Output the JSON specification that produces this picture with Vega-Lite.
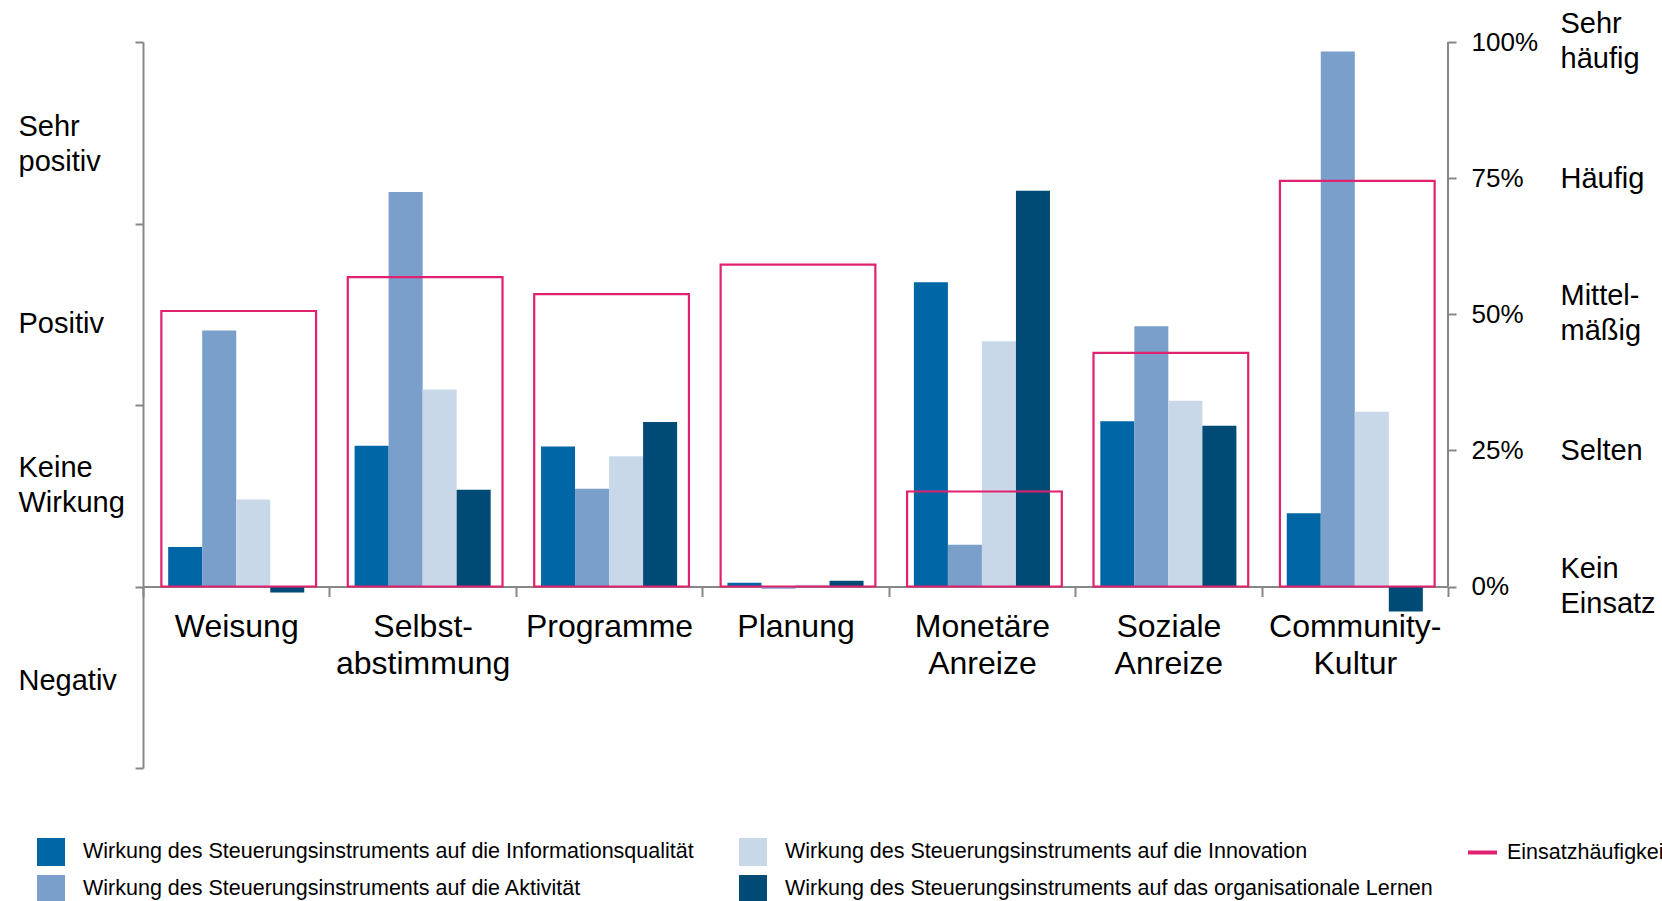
{
  "$schema": "https://vega.github.io/schema/vega-lite/v6.json",
  "autosize": {"type": "none"},
  "width": 1305,
  "height": 726,
  "padding": {"left": 143, "top": 42, "right": 214, "bottom": 133},
  "background": "white",
  "config": {
    "font": "Liberation Sans",
    "view": {"stroke": null},
    "axis": {"labelFont": "Liberation Sans", "labelColor": "#000000", "domainColor": "#878787", "tickColor": "#878787", "domainWidth": 2, "tickWidth": 2, "grid": false, "title": null, "labelOverlap": false, "labelFlush": false, "labelBound": false},
    "legend": {"labelFont": "Liberation Sans", "labelColor": "#000000"}
  },
  "datasets": {
    "bars": [
      {"k": "Weisung", "s": "Wirkung des Steuerungsinstruments auf die Informationsqualität", "v": 0.217},
      {"k": "Weisung", "s": "Wirkung des Steuerungsinstruments auf die Aktivität", "v": 1.41},
      {"k": "Weisung", "s": "Wirkung des Steuerungsinstruments auf die Innovation", "v": 0.48},
      {"k": "Weisung", "s": "Wirkung des Steuerungsinstruments auf das organisationale Lernen", "v": -0.033},
      {"k": "Selbstabstimmung", "s": "Wirkung des Steuerungsinstruments auf die Informationsqualität", "v": 0.776},
      {"k": "Selbstabstimmung", "s": "Wirkung des Steuerungsinstruments auf die Aktivität", "v": 2.174},
      {"k": "Selbstabstimmung", "s": "Wirkung des Steuerungsinstruments auf die Innovation", "v": 1.085},
      {"k": "Selbstabstimmung", "s": "Wirkung des Steuerungsinstruments auf das organisationale Lernen", "v": 0.533},
      {"k": "Programme", "s": "Wirkung des Steuerungsinstruments auf die Informationsqualität", "v": 0.772},
      {"k": "Programme", "s": "Wirkung des Steuerungsinstruments auf die Aktivität", "v": 0.539},
      {"k": "Programme", "s": "Wirkung des Steuerungsinstruments auf die Innovation", "v": 0.717},
      {"k": "Programme", "s": "Wirkung des Steuerungsinstruments auf das organisationale Lernen", "v": 0.906},
      {"k": "Planung", "s": "Wirkung des Steuerungsinstruments auf die Informationsqualität", "v": 0.02},
      {"k": "Planung", "s": "Wirkung des Steuerungsinstruments auf die Aktivität", "v": -0.012},
      {"k": "Planung", "s": "Wirkung des Steuerungsinstruments auf die Innovation", "v": 0.01},
      {"k": "Planung", "s": "Wirkung des Steuerungsinstruments auf das organisationale Lernen", "v": 0.031},
      {"k": "Monetäre Anreize", "s": "Wirkung des Steuerungsinstruments auf die Informationsqualität", "v": 1.676},
      {"k": "Monetäre Anreize", "s": "Wirkung des Steuerungsinstruments auf die Aktivität", "v": 0.23},
      {"k": "Monetäre Anreize", "s": "Wirkung des Steuerungsinstruments auf die Innovation", "v": 1.351},
      {"k": "Monetäre Anreize", "s": "Wirkung des Steuerungsinstruments auf das organisationale Lernen", "v": 2.18},
      {"k": "Soziale Anreize", "s": "Wirkung des Steuerungsinstruments auf die Informationsqualität", "v": 0.91},
      {"k": "Soziale Anreize", "s": "Wirkung des Steuerungsinstruments auf die Aktivität", "v": 1.434},
      {"k": "Soziale Anreize", "s": "Wirkung des Steuerungsinstruments auf die Innovation", "v": 1.024},
      {"k": "Soziale Anreize", "s": "Wirkung des Steuerungsinstruments auf das organisationale Lernen", "v": 0.886},
      {"k": "Community-Kultur", "s": "Wirkung des Steuerungsinstruments auf die Informationsqualität", "v": 0.404},
      {"k": "Community-Kultur", "s": "Wirkung des Steuerungsinstruments auf die Aktivität", "v": 2.948},
      {"k": "Community-Kultur", "s": "Wirkung des Steuerungsinstruments auf die Innovation", "v": 0.963},
      {"k": "Community-Kultur", "s": "Wirkung des Steuerungsinstruments auf das organisationale Lernen", "v": -0.138}
    ],
    "freq": [
      {"k": "Weisung", "f": 0.506},
      {"k": "Selbstabstimmung", "f": 0.568},
      {"k": "Programme", "f": 0.537},
      {"k": "Planung", "f": 0.591},
      {"k": "Monetäre Anreize", "f": 0.1745},
      {"k": "Soziale Anreize", "f": 0.429},
      {"k": "Community-Kultur", "f": 0.745}
    ],
    "rightaxis": [{"a": 0, "b": 1}]
  },
  "resolve": {"scale": {"y": "independent"}, "axis": {"y": "independent"}},
  "layer": [
    {
      "data": {"name": "bars"},
      "mark": {"type": "bar"},
      "encoding": {
        "x": {
          "field": "k", "type": "nominal",
          "sort": ["Weisung", "Selbstabstimmung", "Programme", "Planung", "Monetäre Anreize", "Soziale Anreize", "Community-Kultur"],
          "scale": {"paddingInner": 0, "paddingOuter": 0},
          "axis": {
            "orient": "bottom", "offset": -181.5, "labelAngle": 0, "tickBand": "extent", "tickSize": 10,
            "labelFontSize": 32, "labelPadding": 15, "labelLineHeight": 37, "labelBaseline": "top",
            "labelExpr": "datum.label == 'Selbstabstimmung' ? ['Selbst-', 'abstimmung'] : datum.label == 'Community-Kultur' ? ['Community-', 'Kultur'] : split(datum.label, ' ')"
          }
        },
        "xOffset": {
          "field": "s", "type": "nominal",
          "sort": ["Wirkung des Steuerungsinstruments auf die Informationsqualität", "Wirkung des Steuerungsinstruments auf die Aktivität", "Wirkung des Steuerungsinstruments auf die Innovation", "Wirkung des Steuerungsinstruments auf das organisationale Lernen"],
          "scale": {"paddingInner": 0, "paddingOuter": 0.74}
        },
        "y": {
          "field": "v", "type": "quantitative",
          "scale": {"domain": [-1, 3], "nice": false, "zero": false},
          "axis": {
            "orient": "left", "values": [-1, -0.52, 0, 0.56, 1, 1.45, 2, 2.44, 3],
            "tickSize": 8,
            "tickOpacity": {"condition": {"test": "datum.value % 1 != 0", "value": 0}, "value": 1},
            "labelOffset": {"condition": {"test": "abs(datum.value - 2.44) < 0.01 || abs(datum.value - 0.56) < 0.01", "value": -17}, "value": 0},
            "labelAlign": "left", "labelPadding": 117, "labelFontSize": 29, "labelLineHeight": 35, "labelBaseline": "middle",
            "labelExpr": "abs(datum.value - 2.44) < 0.01 ? ['Sehr', 'positiv'] : abs(datum.value - 1.45) < 0.01 ? 'Positiv' : abs(datum.value - 0.56) < 0.01 ? ['Keine', 'Wirkung'] : abs(datum.value + 0.52) < 0.01 ? 'Negativ' : ''"
          }
        },
        "fill": {
          "field": "s", "type": "nominal",
          "scale": {
            "domain": ["Wirkung des Steuerungsinstruments auf die Informationsqualität", "Wirkung des Steuerungsinstruments auf die Aktivität", "Wirkung des Steuerungsinstruments auf die Innovation", "Wirkung des Steuerungsinstruments auf das organisationale Lernen"],
            "range": ["#0066A6", "#799FCA", "#C9D8E8", "#004A76"]
          },
          "legend": {
            "title": null, "orient": "none", "legendX": -106, "legendY": 796, "columns": 2, "columnPadding": 45, "rowPadding": 9,
            "symbolType": "square", "symbolSize": 784, "symbolStrokeWidth": 0, "symbolOpacity": 1,
            "labelFontSize": 21.5, "labelOffset": 18, "labelLimit": 1000, "padding": 0
          }
        }
      }
    },
    {
      "data": {"name": "freq"},
      "mark": {"type": "bar", "filled": false, "strokeWidth": 2.2, "width": {"band": 0.83}, "xOffset": 2.5},
      "encoding": {
        "x": {"field": "k", "type": "nominal", "sort": ["Weisung", "Selbstabstimmung", "Programme", "Planung", "Monetäre Anreize", "Soziale Anreize", "Community-Kultur"]},
        "y": {
          "field": "f", "type": "quantitative",
          "scale": {"domain": [-0.3333333, 1], "nice": false, "zero": false},
          "axis": {
            "orient": "right", "values": [0, 0.25, 0.5, 0.75, 1], "format": ".0%", "domain": false,
            "tickSize": 8, "labelFontSize": 26, "labelPadding": 15
          }
        },
        "y2": {"datum": 0},
        "stroke": {
          "datum": "Einsatzhäufigkeit", "type": "nominal",
          "scale": {"range": ["#E0216F"]},
          "legend": {
            "title": null, "orient": "none", "legendX": 1323, "legendY": 794,
            "symbolType": "stroke", "symbolSize": 841, "symbolStrokeWidth": 4, "symbolFillColor": "transparent",
            "labelFontSize": 21.5, "labelOffset": 8, "labelLimit": 1000, "padding": 0
          }
        }
      }
    },
    {
      "data": {"name": "rightaxis"},
      "mark": {"type": "rule", "color": "#878787", "strokeWidth": 2},
      "encoding": {
        "x": {"datum": "Community-Kultur", "type": "nominal", "bandPosition": 1},
        "y": {
          "field": "a", "type": "quantitative",
          "scale": {"domain": [-0.3333333, 1], "nice": false, "zero": false},
          "axis": {
            "orient": "right", "values": [0, 0.25, 0.5, 0.75, 1], "domain": false, "ticks": false,
            "labelOffset": {"condition": {"test": "datum.value == 1 || datum.value == 0.5 || datum.value == 0", "value": -18.5}, "value": 0},
            "labelPadding": 112, "labelFontSize": 29, "labelLineHeight": 35, "labelBaseline": "middle", "labelAlign": "left",
            "labelExpr": "datum.value == 1 ? ['Sehr', 'häufig'] : datum.value == 0.75 ? 'Häufig' : datum.value == 0.5 ? ['Mittel-', 'mäßig'] : datum.value == 0.25 ? 'Selten' : ['Kein', 'Einsatz']"
          }
        },
        "y2": {"field": "b"}
      }
    }
  ]
}
